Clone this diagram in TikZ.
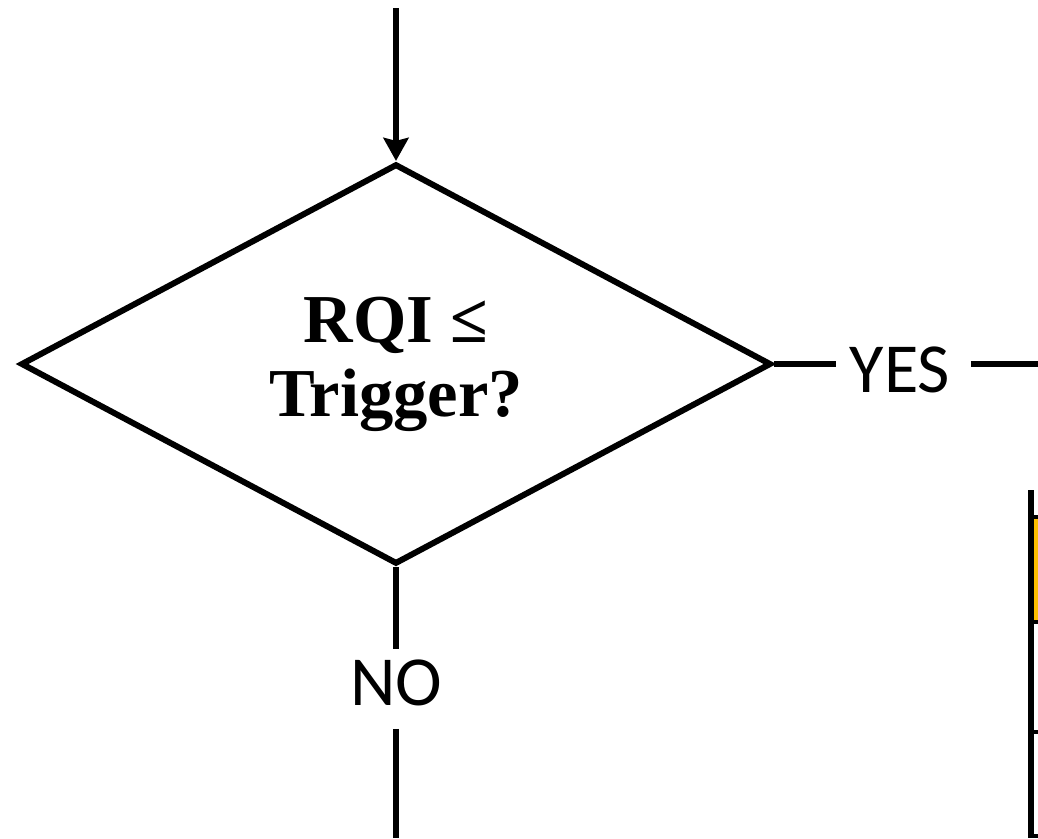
\documentclass[tikz,border=0pt]{standalone}
\usepackage{fontspec}
\setmainfont{Liberation Serif}
\newfontfamily\labelfont{Carlito}
\usetikzlibrary{arrows.meta,shapes.geometric}
\definecolor{CellGold}{RGB}{255,192,0}

\begin{document}
\begin{tikzpicture}[
  x=0.01cm, y=-0.01cm,
  >={Stealth[length=2.3mm,width=2.5mm,inset=0.3mm]},
  line cap=butt,
  line join=miter,
  flow/.style={line width=1.7pt},
  decision/.style={diamond, draw, line width=1.7pt, inner sep=0pt,
    aspect=1.875, minimum width=7.5cm, minimum height=4cm,
    font=\fontsize{19.5}{21}\selectfont\bfseries, align=center},
  answer/.style={font=\labelfont\fontsize{20}{24}\selectfont, inner sep=0pt}
]
  \useasboundingbox (0,0) rectangle (1038,838);

  \coordinate (in)   at (396,8);
  \coordinate (yout) at (1038,364);
  \coordinate (nout) at (396,838);

  \node[decision] (test) at (396,364) {RQI ≤\\Trigger?};
  \node[answer] (yes) at (900,370) {YES};
  \node[answer] (no)  at (396,683) {NO};

  \coordinate (yin)  at (test.east -| yes.west);
  \coordinate (yoff) at (test.east -| yes.east);

  % incoming edge
  \draw[->, flow] (in) -- (test.north);

  % outgoing branches
  \draw[flow] (test.east) -- ([xshift=-0.13cm]yin);
  \draw[flow] ([xshift=0.2cm]yoff) -- (yout);
  \draw[flow] (test.south) -- ([yshift=0.1cm]no.north);
  \draw[flow] ([yshift=-0.22cm]no.south) -- (nout);

  % edge of the table on the right
  \fill[CellGold] (1033,517) rectangle (1038,622);
  \draw[flow] (1031,490) -- (1031,838);
  \foreach \yy in {517,622,732,836}{
    \draw[line width=1.3pt] (1031,\yy) -- (1038,\yy);
  }
\end{tikzpicture}
\end{document}
